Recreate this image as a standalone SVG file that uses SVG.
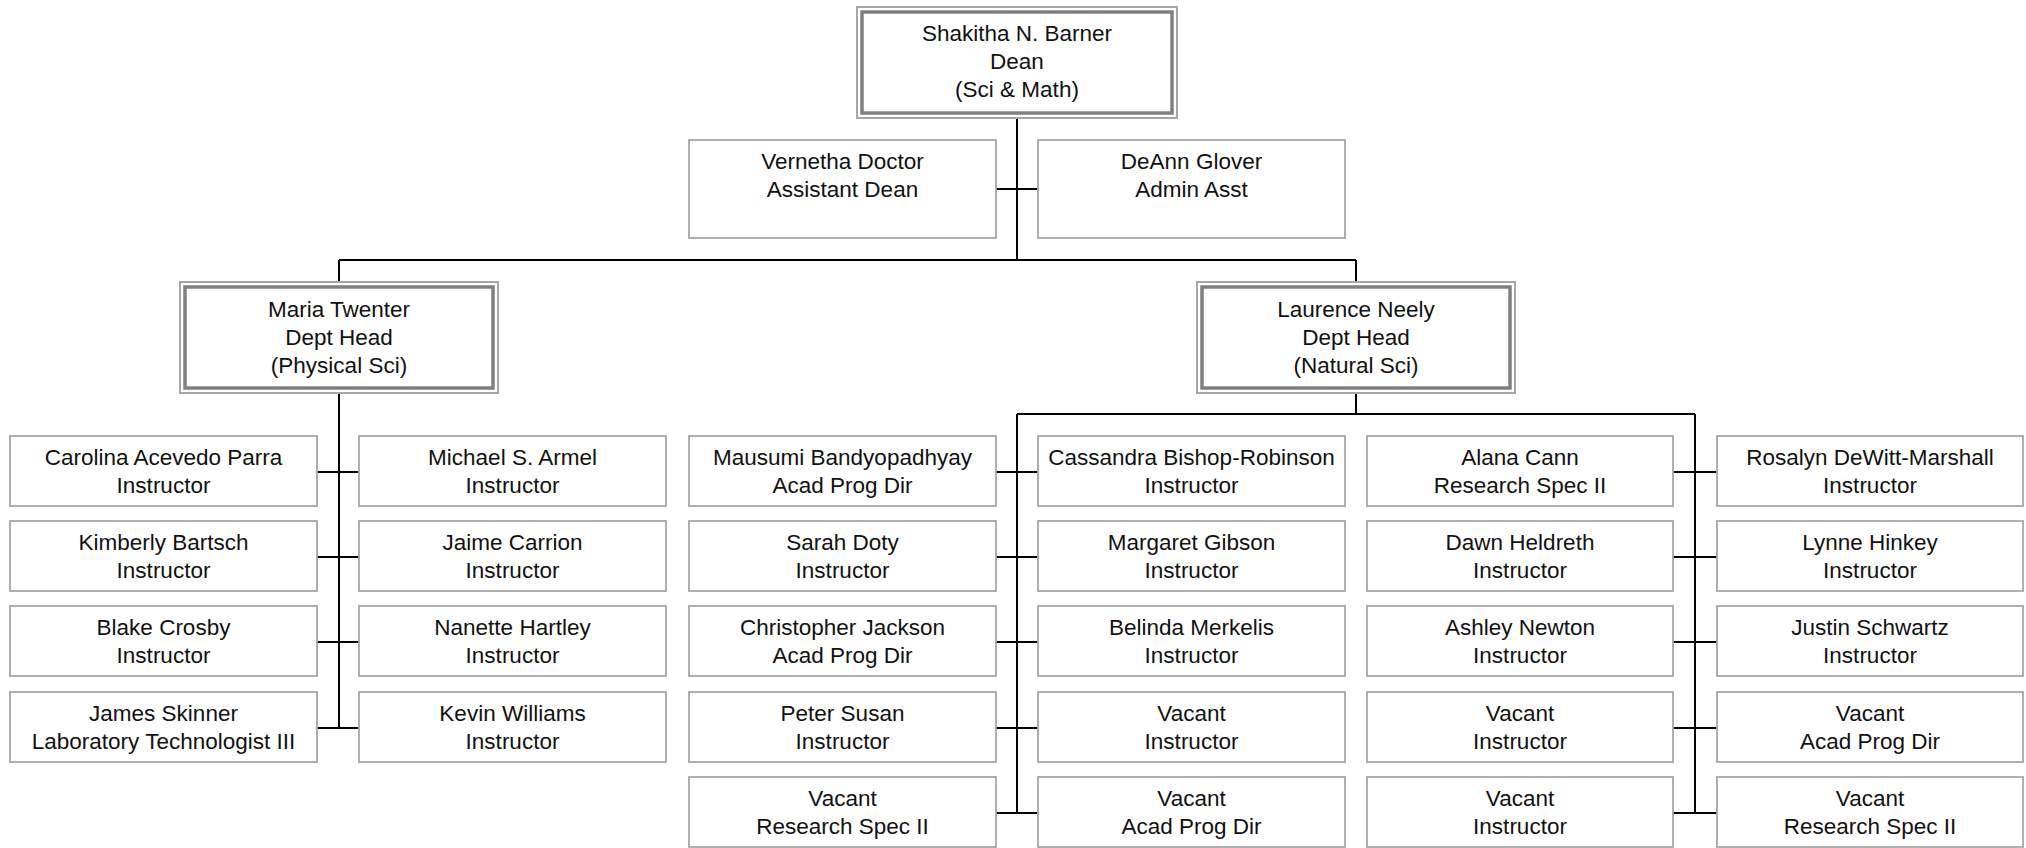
<svg xmlns="http://www.w3.org/2000/svg" width="2026" height="848" viewBox="0 0 2026 848">
<style>
.bg{fill:#ffffff}
.box{fill:#ffffff;stroke:#a6a6a6;stroke-width:1.8}
.hout{fill:#ffffff;stroke:#a6a6a6;stroke-width:2}
.hin{fill:none;stroke:#808080;stroke-width:3.5}
.t{font-family:"Liberation Sans",Arial,sans-serif;font-size:22.5px;fill:#111111;text-anchor:middle}
.con{stroke:#000000;stroke-width:2;fill:none}
</style>
<rect class="bg" x="0" y="0" width="2026" height="848"/>
<g id="connectors">
<path class="con" d="M1017,118 V260 M339,260 H1356 M339,260 V282 M1356,260 V282"/>
<path class="con" d="M996,189 H1038"/>
<path class="con" d="M339,393 V728 M317,472 H359 M317,557 H359 M317,642 H359 M317,728 H359"/>
<path class="con" d="M1356,393 V414 M1017,414 H1695 M1017,414 V813 M1695,414 V813"/>
<path class="con" d="M996,472 H1038 M996,557 H1038 M996,642 H1038 M996,728 H1038 M996,813 H1038"/>
<path class="con" d="M1673,472 H1717 M1673,557 H1717 M1673,642 H1717 M1673,728 H1717 M1673,813 H1717"/>
</g>
<g id="dean">
<rect class="hout" x="857" y="7" width="320" height="111"/>
<rect class="hin" x="862" y="12" width="310" height="101"/>
<text class="t" x="1017" y="41">Shakitha N. Barner</text>
<text class="t" x="1017" y="69">Dean</text>
<text class="t" x="1017" y="97">(Sci &amp; Math)</text>
</g>
<g id="vernetha"><rect class="box" x="689" y="140" width="307" height="98"/><text class="t" x="842.5" y="169">Vernetha Doctor</text><text class="t" x="842.5" y="197">Assistant Dean</text></g>
<g id="deann"><rect class="box" x="1038" y="140" width="307" height="98"/><text class="t" x="1191.5" y="169">DeAnn Glover</text><text class="t" x="1191.5" y="197">Admin Asst</text></g>
<g id="maria">
<rect class="hout" x="180" y="282" width="318" height="111"/>
<rect class="hin" x="185" y="287" width="308" height="101"/>
<text class="t" x="339" y="316.5">Maria Twenter</text>
<text class="t" x="339" y="344.5">Dept Head</text>
<text class="t" x="339" y="372.5">(Physical Sci)</text>
</g>
<g id="laurence">
<rect class="hout" x="1197" y="282" width="318" height="111"/>
<rect class="hin" x="1202" y="287" width="308" height="101"/>
<text class="t" x="1356" y="316.5">Laurence Neely</text>
<text class="t" x="1356" y="344.5">Dept Head</text>
<text class="t" x="1356" y="372.5">(Natural Sci)</text>
</g>
<g id="carolina"><rect class="box" x="10" y="436" width="307" height="70"/><text class="t" x="163.5" y="465">Carolina Acevedo Parra</text><text class="t" x="163.5" y="493">Instructor</text></g>
<g id="michael"><rect class="box" x="359" y="436" width="307" height="70"/><text class="t" x="512.5" y="465">Michael S. Armel</text><text class="t" x="512.5" y="493">Instructor</text></g>
<g id="kimberly"><rect class="box" x="10" y="521" width="307" height="70"/><text class="t" x="163.5" y="550">Kimberly Bartsch</text><text class="t" x="163.5" y="578">Instructor</text></g>
<g id="jaime"><rect class="box" x="359" y="521" width="307" height="70"/><text class="t" x="512.5" y="550">Jaime Carrion</text><text class="t" x="512.5" y="578">Instructor</text></g>
<g id="blake"><rect class="box" x="10" y="606" width="307" height="70"/><text class="t" x="163.5" y="635">Blake Crosby</text><text class="t" x="163.5" y="663">Instructor</text></g>
<g id="nanette"><rect class="box" x="359" y="606" width="307" height="70"/><text class="t" x="512.5" y="635">Nanette Hartley</text><text class="t" x="512.5" y="663">Instructor</text></g>
<g id="james"><rect class="box" x="10" y="692" width="307" height="70"/><text class="t" x="163.5" y="721">James Skinner</text><text class="t" x="163.5" y="749">Laboratory Technologist III</text></g>
<g id="kevin"><rect class="box" x="359" y="692" width="307" height="70"/><text class="t" x="512.5" y="721">Kevin Williams</text><text class="t" x="512.5" y="749">Instructor</text></g>
<g id="mausumi"><rect class="box" x="689" y="436" width="307" height="70"/><text class="t" x="842.5" y="465">Mausumi Bandyopadhyay</text><text class="t" x="842.5" y="493">Acad Prog Dir</text></g>
<g id="sarah"><rect class="box" x="689" y="521" width="307" height="70"/><text class="t" x="842.5" y="550">Sarah Doty</text><text class="t" x="842.5" y="578">Instructor</text></g>
<g id="christopher"><rect class="box" x="689" y="606" width="307" height="70"/><text class="t" x="842.5" y="635">Christopher Jackson</text><text class="t" x="842.5" y="663">Acad Prog Dir</text></g>
<g id="peter"><rect class="box" x="689" y="692" width="307" height="70"/><text class="t" x="842.5" y="721">Peter Susan</text><text class="t" x="842.5" y="749">Instructor</text></g>
<g id="vacantA5"><rect class="box" x="689" y="777" width="307" height="70"/><text class="t" x="842.5" y="806">Vacant</text><text class="t" x="842.5" y="834">Research Spec II</text></g>
<g id="cassandra"><rect class="box" x="1038" y="436" width="307" height="70"/><text class="t" x="1191.5" y="465">Cassandra Bishop-Robinson</text><text class="t" x="1191.5" y="493">Instructor</text></g>
<g id="margaret"><rect class="box" x="1038" y="521" width="307" height="70"/><text class="t" x="1191.5" y="550">Margaret Gibson</text><text class="t" x="1191.5" y="578">Instructor</text></g>
<g id="belinda"><rect class="box" x="1038" y="606" width="307" height="70"/><text class="t" x="1191.5" y="635">Belinda Merkelis</text><text class="t" x="1191.5" y="663">Instructor</text></g>
<g id="vacantB4"><rect class="box" x="1038" y="692" width="307" height="70"/><text class="t" x="1191.5" y="721">Vacant</text><text class="t" x="1191.5" y="749">Instructor</text></g>
<g id="vacantB5"><rect class="box" x="1038" y="777" width="307" height="70"/><text class="t" x="1191.5" y="806">Vacant</text><text class="t" x="1191.5" y="834">Acad Prog Dir</text></g>
<g id="alana"><rect class="box" x="1367" y="436" width="306" height="70"/><text class="t" x="1520" y="465">Alana Cann</text><text class="t" x="1520" y="493">Research Spec II</text></g>
<g id="dawn"><rect class="box" x="1367" y="521" width="306" height="70"/><text class="t" x="1520" y="550">Dawn Heldreth</text><text class="t" x="1520" y="578">Instructor</text></g>
<g id="ashley"><rect class="box" x="1367" y="606" width="306" height="70"/><text class="t" x="1520" y="635">Ashley Newton</text><text class="t" x="1520" y="663">Instructor</text></g>
<g id="vacantC4"><rect class="box" x="1367" y="692" width="306" height="70"/><text class="t" x="1520" y="721">Vacant</text><text class="t" x="1520" y="749">Instructor</text></g>
<g id="vacantC5"><rect class="box" x="1367" y="777" width="306" height="70"/><text class="t" x="1520" y="806">Vacant</text><text class="t" x="1520" y="834">Instructor</text></g>
<g id="rosalyn"><rect class="box" x="1717" y="436" width="306" height="70"/><text class="t" x="1870" y="465">Rosalyn DeWitt-Marshall</text><text class="t" x="1870" y="493">Instructor</text></g>
<g id="lynne"><rect class="box" x="1717" y="521" width="306" height="70"/><text class="t" x="1870" y="550">Lynne Hinkey</text><text class="t" x="1870" y="578">Instructor</text></g>
<g id="justin"><rect class="box" x="1717" y="606" width="306" height="70"/><text class="t" x="1870" y="635">Justin Schwartz</text><text class="t" x="1870" y="663">Instructor</text></g>
<g id="vacantD4"><rect class="box" x="1717" y="692" width="306" height="70"/><text class="t" x="1870" y="721">Vacant</text><text class="t" x="1870" y="749">Acad Prog Dir</text></g>
<g id="vacantD5"><rect class="box" x="1717" y="777" width="306" height="70"/><text class="t" x="1870" y="806">Vacant</text><text class="t" x="1870" y="834">Research Spec II</text></g>
</svg>
